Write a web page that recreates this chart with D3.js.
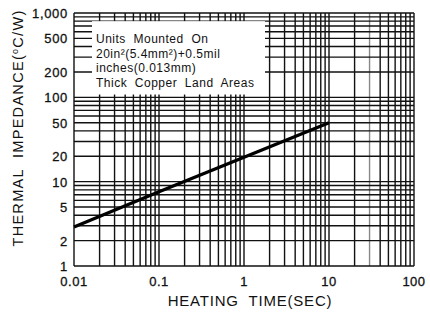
<!DOCTYPE html>
<html>
<head>
<meta charset="utf-8">
<script src="https://cdn.jsdelivr.net/npm/d3@7"></script>
<style>
  body { margin: 0; background: #fff; }
  text { font-family: "Liberation Sans", Arial, sans-serif; fill: #111; white-space: pre; }
</style>
</head>
<body>
<div id="viz"></div>
<script>
// curve: heating time (s) vs thermal impedance (C/W)
var timeSec = [0.01, 0.1, 1, 10];
var impedance = [2.9, 7.6, 19.5, 50];

var xTicks = [0.01, 0.1, 1, 10, 100];
var xTickLabels = ["0.01", "0.1", "1", "10", "100"];
var yTicks = [1, 2, 5, 10, 20, 50, 100, 200, 500, 1000];
var yTickLabels = ["1", "2", "5", "10", "20", "50", "100", "200", "500", "1,000"];

var noteLines = ["Units  Mounted  On", "20in\u00b2(5.4mm\u00b2)+0.5mil", "inches(0.013mm)", "Thick  Copper  Land  Areas"];

var width = 430,
    height = 313;
var margin = {left: 74, right: 16, top: 13, bottom: 47};

var svg = d3.select("#viz").append("svg")
    .attr("width", width)
    .attr("height", height);

var x = d3.scaleLog()
    .domain([0.01, 100])
    .range([margin.left, width - margin.right]);

var y = d3.scaleLog()
    .domain([1, 1000])
    .range([height - margin.bottom, margin.top]);

// every 1..9 step in each decade
var xGrid = [], yGrid = [];
[0.01, 0.1, 1, 10].forEach(function(d) {
    for (var k = 1; k < 10; k++) xGrid.push(d * k);
});
xGrid.push(100);
[1, 10, 100].forEach(function(d) {
    for (var k = 1; k < 10; k++) yGrid.push(d * k);
});
yGrid.push(1000);

var grid = svg.append("g");

grid.selectAll(".vg")
    .data(xGrid)
  .enter().append("line")
    .attr("x1", function(d) { return x(d); })
    .attr("x2", function(d) { return x(d); })
    .attr("y1", y(1000))
    .attr("y2", y(1))
    .style("stroke", function(d, i) { return i % 9 == 2 && i > 20 ? "#888" : "#111"; })
    .style("stroke-width", 1.4);

grid.selectAll(".hg")
    .data(yGrid)
  .enter().append("line")
    .attr("x1", x(0.01))
    .attr("x2", x(100))
    .attr("y1", function(d) { return y(d); })
    .attr("y2", function(d) { return y(d); })
    .style("stroke", "#111")
    .style("stroke-width", 1.4);

// note box, covers the grid
var box = svg.append("g");
box.append("rect")
    .attr("x", 92)
    .attr("y", y(800))
    .attr("width", 265 - 92)
    .attr("height", y(108) - y(800))
    .style("fill", "#fff");

box.selectAll("text")
    .data(noteLines)
  .enter().append("text")
    .attr("x", 96)
    .attr("y", function(d, i) { return 43 + i * 14.5; })
    .style("font-size", "12px")
    .style("letter-spacing", "0.5px")
    .text(function(d) { return d; });

// the curve
var line = d3.line()
    .x(function(d) { return x(d[0]); })
    .y(function(d) { return y(d[1]); });

svg.append("path")
    .datum(timeSec.map(function(t, i) { return [t, impedance[i]]; }))
    .attr("d", line)
    .style("fill", "none")
    .style("stroke", "#000")
    .style("stroke-width", 3.3);

// tick labels
svg.selectAll(".xl")
    .data(xTicks)
  .enter().append("text")
    .attr("x", function(d) { return x(d); })
    .attr("y", height - margin.bottom + 20)
    .attr("text-anchor", "middle")
    .style("font-size", "13px")
    .style("letter-spacing", "0.5px")
    .style("stroke", "#111")
    .style("stroke-width", 0.3)
    .text(function(d, i) { return xTickLabels[i]; });

svg.selectAll(".yl")
    .data(yTicks)
  .enter().append("text")
    .attr("x", margin.left - 6)
    .attr("y", function(d) { return y(d) + 5; })
    .attr("text-anchor", "end")
    .style("font-size", "13px")
    .style("letter-spacing", "0.7px")
    .style("stroke", "#111")
    .style("stroke-width", 0.3)
    .text(function(d, i) { return yTickLabels[i]; });

// axis titles
svg.append("text")
    .attr("x", 250)
    .attr("y", 306)
    .attr("text-anchor", "middle")
    .style("font-size", "15px")
    .style("letter-spacing", "0.8px")
    .text("HEATING  TIME(SEC)");

var yt = svg.append("text")
    .attr("transform", "translate(23,128) rotate(-90)")
    .attr("text-anchor", "middle")
    .style("font-size", "14.5px")
    .style("letter-spacing", "1.3px");
yt.append("tspan").text("THERMAL  IMPEDANCE(");
yt.append("tspan").attr("dy", -5).style("font-size", "9px").text("o");
yt.append("tspan").attr("dy", 5).text("C/W)");
</script>
</body>
</html>
